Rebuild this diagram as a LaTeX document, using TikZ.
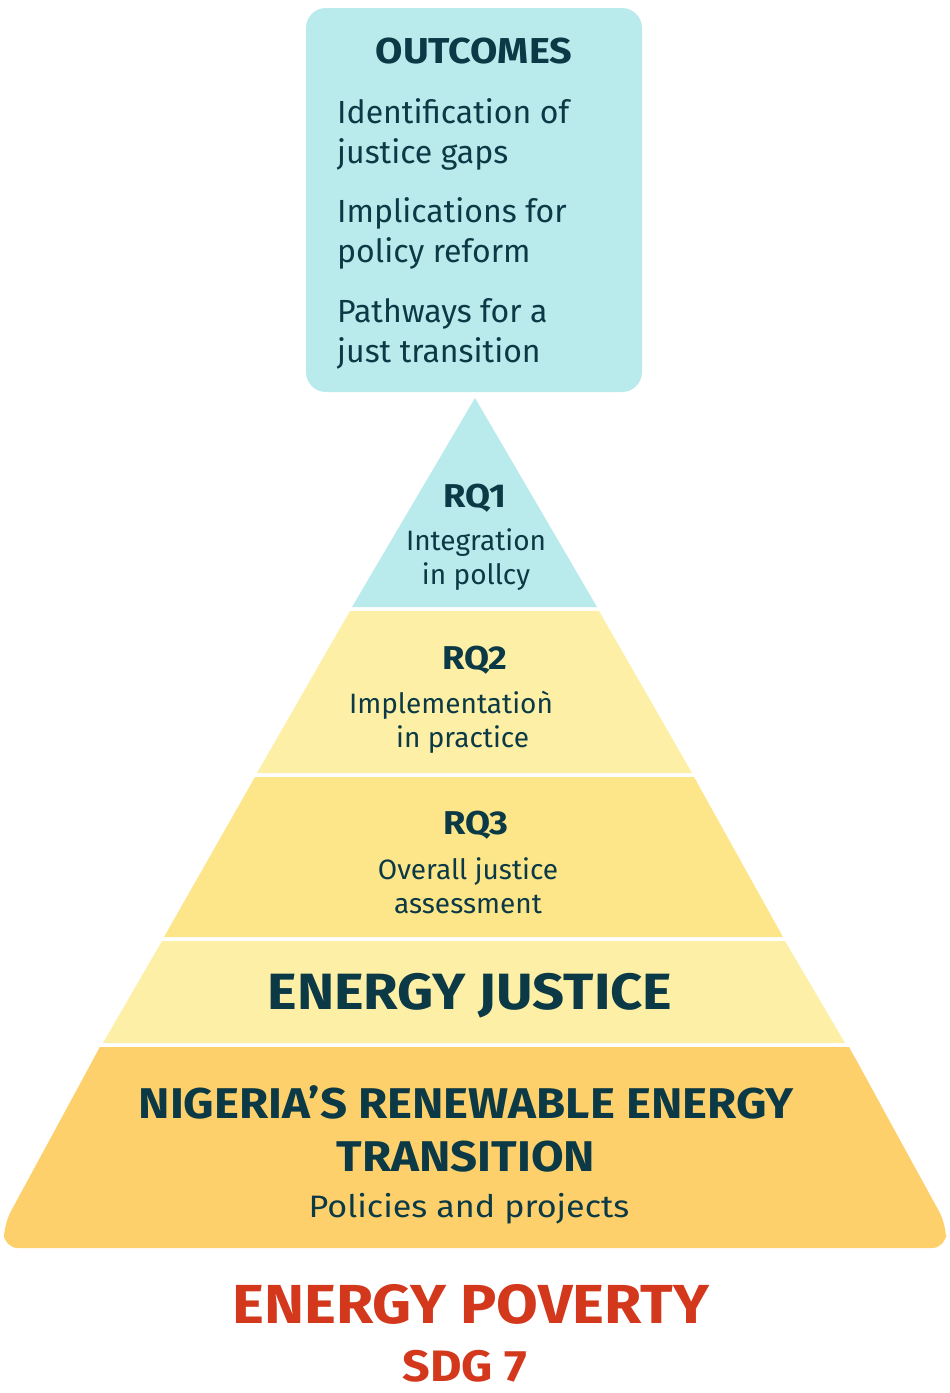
\documentclass[tikz,border=0pt]{standalone}
\usepackage{fontspec}
\setmainfont{Fira Sans}
\newfontfamily\headfont[FakeStretch=1.1]{Fira Sans}
\usepackage{xcolor}
\usepackage{tikz}

\definecolor{boxcyan}{HTML}{B9EBEC}
\definecolor{layerlight}{HTML}{FDF0A6}
\definecolor{layermid}{HTML}{FDE68A}
\definecolor{layerbase}{HTML}{FDD06B}
\definecolor{inkteal}{HTML}{0B3945}
\definecolor{inkred}{HTML}{D3381C}

\begin{document}
\begin{tikzpicture}[x=1pt,y=-1pt,
    layer/.style={draw=none},
    title/.style={inkteal,font=\headfont\fontsize{#1}{#1}\selectfont\bfseries,inner sep=0pt},
    body/.style={inkteal,align=center,inner sep=0pt,font=\fontsize{28}{34}\selectfont},
    outline/.style={inkteal,align=left,inner sep=0pt,anchor=base west,font=\fontsize{32}{40}\selectfont}]
    \useasboundingbox[fill=white] (0,0) rectangle (950,1393);

    % Outcomes box
    \fill[boxcyan,rounded corners=20pt] (306,8) rectangle (642,392);
    \node[title=36] (outcomes) at (474,51) {OUTCOMES};
    \node[outline] (gaps) at (337,163) {Identification of\\justice gaps};
    \node[outline] (reform) at (337,262) {Implications for\\policy reform};
    \node[outline] (pathways) at (337,362) {Pathways for a\\just transition};

    % Pyramid layers
    \fill[layer,boxcyan] (475,398) -- (597,607) -- (352,607) -- cycle;
    \fill[layer,layerlight] (350,611) -- (599,611) -- (692,773) -- (257,773) -- cycle;
    \fill[layer,layermid] (255,777) -- (694,777) -- (783,937) -- (164,937) -- cycle;
    \fill[layer,layerlight] (162,941) -- (785,941) -- (845,1043) -- (103,1043) -- cycle;
    \fill[layer,layerbase,rounded corners=14pt] (100,1047) -- (849,1047)
        -- (946,1224) -- (946,1248) -- (4,1248) -- (4,1224) -- (100,1047);
    \fill[layerbase] (100,1047) -- (849,1047) -- (880,1104) -- (70,1104) -- cycle;

    % Research questions
    \node[title=33] (rq1) at (475,498) {RQ1};
    \node[body] (rq1txt) at (476,560) {Integration\\in pollcy};
    \node[title=33] (rq2) at (475,660) {RQ2};
    \node[body,align=left] (rq2txt) at (451,722) {Implementatioǹ\\\hspace{47pt}in practice};
    \node[title=33] (rq3) at (476,825) {RQ3};
    \node[body] (rq3txt) at (468,886) {Overall justice\\assessment};

    % Foundations
    \node[title=51] (justice) at (470,996) {ENERGY JUSTICE};
    \node[title=43,align=center,font=\headfont\fontsize{43}{53}\selectfont\bfseries] (transition) at (466,1129)
        {NIGERIA’S RENEWABLE ENERGY\\TRANSITION};
    \node[inkteal,inner sep=0pt,font=\headfont\fontsize{31}{31}\selectfont] (projects) at (469,1209) {Policies and projects};

    % Problem
    \node[title=55,inkred] (poverty) at (471,1304) {ENERGY POVERTY};
    \node[title=44,inkred] (sdg) at (465,1366) {SDG 7};
\end{tikzpicture}
\end{document}
